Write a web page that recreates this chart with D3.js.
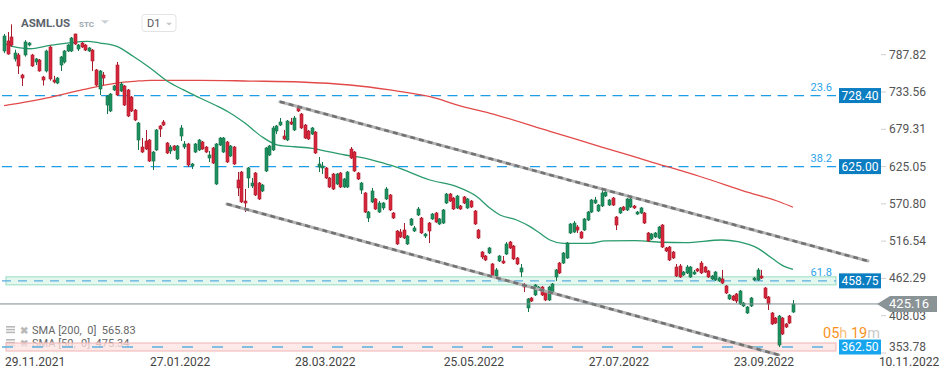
<!DOCTYPE html>
<html>
<head>
<meta charset="utf-8">
<script src="https://cdn.jsdelivr.net/npm/d3@7"></script>
<style>
    body { margin: 0; background: #fff; }
    svg { display: block; font-family: Roboto, "Noto Sans", sans-serif; }
</style>
</head>
<body>
<div id="chart"></div>
<script>
// Daily candles, [open, high, low, close]
var ohlc = [
    [793.2,818,790,815],[807.8,820.8,787.8,788.8],[813.6,832,799,801.9],[781.6,795,778,790.3],[787.4,790.3,759.7,771.4],
    [758.3,760,742.3,753.9],[787.4,809,785,806.3],[801.9,806.3,800,804.8],[787.4,789,770,771.4],[777.2,783,772.8,781.6],
    [780.1,781.6,763,764.1],[755.4,757,743,751],[764.1,795,762,793.2],[799,801,750,752.5],[751,757,746,748.1],
    [746.6,755.4,745,753.9],[772.8,786,764.1,784.5],[777.2,794.6,775,793.2],[793.2,803.4,791.7,801.9],[793.2,813.6,791.7,812.1],
    [817.9,818.5,802,803.4],[796.1,803.4,793.2,801.9],[804.8,806.3,797.6,799],[801.9,803.4,793.2,794.6],[793.2,799,791.7,797.6],
    [794.6,796,764.1,778.7],[765.6,767,742,743.7],[737.9,765.6,729.2,764.1],[758.3,762.6,743.7,753.9],[714.6,729.2,701.5,727.7],
    [705.9,732,704.4,730.6],[736.5,743.7,735,742.3],[772.8,777.2,727.7,729.2],[735,748,733.6,745.2],[742.3,743.7,713.2,714.6],
    [736.5,737.9,697,698.6],[726.3,727.7,704.4,705.9],[707.3,708.8,691.3,692.8],[663.7,689.9,649.2,688.4],[653.5,666.6,644.8,646.2],
    [662.2,678.3,649.2,650.6],[663.7,665.2,631.7,633.1],[633.1,647.7,620,646.2],[649.2,679.7,647.7,678.3],[684.1,685.5,668,679.7],
    [689.9,692.8,684.1,685.5],[659.3,660.8,643.3,644.8],[647.7,656.4,643.3,653.5],[655,656.4,647.7,649.2],[636.1,656.4,634.6,655],
    [669.5,685.5,662.2,681.2],[653.5,662.2,650.6,657.9],[657.9,659.3,624.4,627.3],[625.9,630.2,621.5,628.8],[646.2,659.3,644.8,657.9],
    [649.2,665.2,647.7,663.7],[660.8,662.2,649.2,650.6],[653.5,655,644.8,646.2],[637.5,647.7,631.7,641.9],[652.1,653.5,628.8,630.2],
    [599.7,659.3,598.2,657.9],[656.4,668,655,666.6],[646.2,668,644.8,666.6],[660.8,662.2,630.2,631.7],[640.4,656.4,639,655],
    [653.5,655,627.3,628.8],[605.5,617.1,582.2,593.9],[617.1,618.6,572,573.5],[574.9,592.4,558.9,572],[608.4,624.4,593.9,623],
    [596.8,608.4,593.9,601.1],[615.7,617.1,582.2,583.7],[601.1,602.6,576.4,577.9],[589.5,599.7,588,598.2],[618.6,653.5,617.1,652.1],
    [641.9,656.4,640.4,655],[649.2,684.1,647.7,681.2],[676.8,685.5,672.4,684.1],[685.5,695.7,684.1,689.9],[669.5,678.3,663.7,665.2],
    [663.7,692.8,662.2,691.3],[689.9,695.7,685.5,686.9],[678.3,698.6,676.8,695.7],[710.3,714.6,704.4,705.9],[701.5,703,679.7,681.2],
    [685.5,686.9,665.2,666.6],[676.8,678.3,663.7,665.2],[672.4,682.6,671,681.2],[675.3,676.8,643.3,644.8],[624.4,639,617.1,628.8],
    [623,631.7,614.2,625.9],[623,624.4,606.9,608.4],[608.4,609.9,593.9,595.3],[614.2,615.7,590.9,592.4],[599.7,615.7,598.2,614.2],
    [615.7,617.1,593.9,595.3],[595.3,608.4,593.9,606.9],[595.3,618.6,593.9,617.1],[650.6,653.5,636.1,637.5],[646.2,647.7,617.1,618.6],
    [615.7,617.1,605.5,606.9],[590.9,602.6,585.1,601.1],[586.6,588,557.5,558.9],[550.2,560.4,544.4,558.9],[573.5,593.9,572,589.5],
    [577.9,579.3,561.9,563.3],[558.9,574.9,557.5,572],[564.8,573.5,561.9,572],[577.9,595.3,576.4,592.4],[583.7,585.1,560.4,561.9],
    [557.5,558.9,548.8,550.2],[531.3,532.7,511,512.4],[529.8,534.2,521.1,522.6],[532.7,542.9,519.7,521.1],[512.4,525.5,511,524],
    [540,550.2,538.6,548.8],[531.3,538.6,529.8,535.7],[554.6,566.2,553.1,563.3],[550.2,551.7,527,528.4],[524,528.4,521.1,526.9],
    [542.9,544.4,513.8,531.3],[548.8,557.5,547.3,556],[557.5,558.9,543,544.4],[541.5,550.2,540,548.8],[542.9,563.3,541.5,561.9],
    [572,586.6,570.6,585.1],[585.1,586.6,573.5,574.9],[579.3,580.8,561.9,563.3],[564.8,583.7,563.3,582.2],[567.7,569.1,561.9,563.3],
    [580.8,582.2,570.6,572],[564.8,579.3,563.3,577.9],[574.9,576.4,564.8,566.2],[560.4,561.9,540,541.5],[532.7,534.2,519.7,521.1],
    [500.7,502.2,490.6,493.5],[494.9,496.4,487.6,489.1],[499.3,508,497.8,506.6],[483.3,484.7,464.4,465.8],[465.8,477.5,464.4,474.6],
    [487.6,496.4,486.2,494.9],[487.6,494.9,483.3,484.7],[497.8,515.3,496.4,512.4],[515.3,516.8,505.1,506.6],[509.5,510.9,489.1,490.6],
    [492,493.5,481.8,483.3],[471.6,483.3,464.4,477.5],[452.7,455.6,442.5,449.8],[419.3,433.8,413.4,432.4],[433.8,435.3,428,429.4],
    [438.2,454.2,436.7,452.7],[445.5,451.3,444,449.8],[449.8,451.3,436.7,438.2],[442.5,444,429.4,430.9],[430.9,451.3,429.4,449.8],
    [442.5,455.6,441.1,454.2],[464.4,476,458.5,474.6],[484.7,486.2,468.7,470.2],[484.7,500.7,483.3,499.3],[492,515.3,490.6,513.8],
    [528.4,543,527,541.5],[529.8,545.8,528.4,542.9],[537.1,540,528.4,532.7],[529.8,531.3,519.7,521.1],[532.7,550.2,531.3,548.8],
    [547.3,560.4,545.8,558.9],[558.9,577.9,557.5,576.4],[572,580.8,570.6,576.4],[560.4,570.6,559,569.1],[567.7,590.9,566.2,586.6],
    [582.2,589.5,580.8,588],[569.1,577.9,567.7,576.4],[579.3,580.8,567.7,569.1],[551.7,553.1,532.7,540],[557.5,566.2,556,564.8],
    [566.2,567.7,560.4,561.9],[561.9,579.3,560.4,577.9],[566.2,579.3,564.8,577.9],[567.7,569.1,563.3,564.8],[556,560.4,554.6,558.9],
    [557.5,566.2,556,564.8],[557.5,558.9,541.5,542.9],[528.4,529.8,515.3,516.8],[519.7,528.4,518.2,526.9],[522.6,529.8,521.1,528.4],
    [521.1,538.6,519.7,537.1],[540,541.5,506.6,508],[506.6,508,500.7,502.2],[508,509.5,487.6,489.1],[500.7,502.2,490.6,492],
    [478.9,483.3,464.4,465.8],[480.4,483.3,463,464.4],[467.3,473.1,465.8,471.6],[470.2,481.8,468.7,478.9],[464.4,480.4,463,478.9],
    [468.7,474.6,467.3,471.6],[476,477.5,471.6,473.1],[484.7,487.6,468.7,470.2],[478.9,480.4,470.2,471.6],[473.1,474.6,463,464.4],
    [461.5,467.3,460,465.8],[460,473.1,458.5,471.6],[458.5,464.4,457.1,462.9],[461.5,474.6,454.2,455.6],[451.3,452.7,439.6,441.1],
    [432.4,439.6,430.9,438.2],[436.7,438.2,429.4,430.9],[439.6,441.1,426.5,429.4],[425.1,445.5,423.6,444],[422.2,428,420.7,426.5],
    [412,422.2,410.5,420.7],[422.2,435.3,420.7,433.8],[460,464.4,458.5,462.9],[460,477.5,458.5,474.6],[465.8,474.6,461.5,462.9],
    [448.4,449.8,432.4,433.8],[435.3,436.7,416.4,425.1],[412,413.4,394.5,396],[404.7,406.2,396,397.4],[365.4,409.1,362.5,407.6],
    [404.7,406.2,380,381.4],[396,397.4,390.2,391.6],[407.6,409.1,396,397.4],[413.4,430.9,412,425.16]
];

// Moving averages read at points along the curves: [bar index, value]
var sma50 = [
    [0,804],[4.5,797.6],[7.3,796.5],[13,801.5],[17.8,804.8],[23.5,807.3],[27.1,804.8],[31.9,800],[36.5,785.5],
    [41.3,768.5],[46.1,749.6],[50.6,736.9],[55.4,724.8],[59.6,714.6],[63.3,704.9],[68.1,688.4],[72.9,668.5],
    [77.4,656.4],[82.2,653.9],[87.1,651.6],[91.6,646.7],[96.4,641.9],[101.2,638],[105.7,632.1],[110.5,624.9],
    [120.4,605.5],[128,595.8],[133.7,581.2],[137.4,564.3],[140.2,554.6],[144.9,547.3],[148.7,537.6],[151.5,527.9],
    [154.3,518.2],[158.1,513.4],[165.6,513.4],[169.9,516.8],[178.4,517.2],[186,514.9],[192.5,514.3],[202.9,518.2],
    [207.5,515.7],[213.1,506.1],[217.1,491.6],[220.7,479.4],[223,475.34]
];
var sma200 = [
    [0,713.6],[13,725.8],[22.3,736.9],[31.9,746.6],[37,749.1],[41.3,750.6],[55.4,750.6],[69.5,749.5],[83.7,748.1],
    [97.8,743.7],[109.1,736.5],[120.4,726.7],[129.7,712.2],[137.4,702.6],[154.3,676.4],[168.5,654.2],[182.6,632.4],
    [196.7,610.6],[210.9,586.6],[219.3,573.5],[223,565.83]
];

var yTicks = [787.82, 733.56, 679.31, 625.05, 570.80, 516.54, 462.29, 408.03, 353.78];
var xTickIdx = [0, 41, 82, 124, 165, 206, 247];
var xTickLabels = ["29.11.2021", "27.01.2022", "28.03.2022", "25.05.2022", "27.07.2022", "23.09.2022", "10.11.2022"];

var fibValues = [728.40, 625.00, 458.75, 362.50];
var fibNames = ["23.6", "38.2", "61.8", ""];

// Channel trend lines: [bar index, price] end points
var channelUpper = [[78, 719.4], [244.2, 487.6]];
var channelLower = [[63, 570.6], [219, 350.9]];

var lastPrice = 425.16;
var legendLines = ["SMA [200,  0]  565.83", "SMA [50,  0]  475.34"];

var width = 949, height = 378;

var svg = d3.select("#chart")
    .append("svg")
    .attr("width", width)
    .attr("height", height);

// Scales: one bar every ~3.54px, price axis on the right
var x = d3.scaleLinear().domain([0, 247]).range([4, 4 + 3.538 * 247]);
var y = d3.scaleLinear().domain([353.78, 787.82]).range([353, 54.7]);

svg.append("clipPath").attr("id", "plotClip")
    .append("rect").attr("x", 0).attr("y", 0).attr("width", 880).attr("height", 356);

// Header
svg.append("text").attr("x", 21).attr("y", 27)
    .style("font-size", "11.5px").style("font-weight", "bold").style("fill", "#5b636b")
    .text("ASML.US");
svg.append("text").attr("x", 79).attr("y", 26.8)
    .style("font-size", "8px").style("font-weight", "bold").style("fill", "#9aa7b0")
    .text("STC");
svg.append("path").attr("d", "M101,20.3L109,20.3L105,23.8Z").style("fill", "#c8d0d5");
svg.append("rect").attr("x", 142).attr("y", 14.5).attr("width", 34).attr("height", 17).attr("rx", 3)
    .style("fill", "#fff").style("stroke", "#e3e3e3");
svg.append("text").attr("x", 147).attr("y", 27)
    .style("font-size", "11px").style("fill", "#555")
    .text("D1");
svg.append("path").attr("d", "M166,22.7L172,22.7L169,25.5Z").style("fill", "#c8c8c8");

// Legend (drawn first so the bottom band covers it)
var legend = svg.append("g");
legendLines.forEach(function(t, i) {
    var ly = 334 + i * 13;
    legend.append("rect").attr("x", 6).attr("y", ly - 8).attr("width", 9).attr("height", 1.6).style("fill", "#b8b8b8");
    legend.append("rect").attr("x", 6).attr("y", ly - 5.2).attr("width", 9).attr("height", 1.6).style("fill", "#b8b8b8");
    legend.append("rect").attr("x", 6).attr("y", ly - 2.4).attr("width", 9).attr("height", 1.6).style("fill", "#b8b8b8");
    legend.append("text").attr("x", 19.5).attr("y", ly)
        .style("font-size", "10px").style("font-weight", "bold").style("fill", "#b8b8b8")
        .text("\u2716");
    legend.append("text").attr("x", 32).attr("y", ly)
        .style("font-size", "11px").style("fill", "#666").style("white-space", "pre")
        .text(t);
});

var plot = svg.append("g").attr("clip-path", "url(#plotClip)");

// Fibonacci levels
var bandFill = { 2: "#dcf5ea", 3: "#fde2e2" };
var bandStroke = { 2: "#98dcc0", 3: "#f1b2b2" };
var levelDash = ["10,6.5", "10,6.5", "9,7", "11,19"];
fibValues.forEach(function(v, i) {
    var ly = y(v);
    if (bandFill[i]) {
        plot.append("rect")
            .attr("x", 6).attr("y", ly - 4).attr("width", 830).attr("height", 8)
            .style("fill", bandFill[i]).style("fill-opacity", 0.75)
            .style("stroke", bandStroke[i]).style("stroke-width", 1);
    }
    plot.append("line")
        .attr("x1", 2).attr("x2", 836).attr("y1", ly).attr("y2", ly)
        .style("stroke", bandFill[i] ? "#5aaee0" : "#1b9de8")
        .style("stroke-width", 1.3)
        .style("stroke-dasharray", levelDash[i]);
});

// Moving averages
var smaLine = d3.line()
    .x(function(d) { return x(d[0]); })
    .y(function(d) { return y(d[1]); })
    .curve(d3.curveMonotoneX);

plot.append("path").datum(sma200).attr("d", smaLine)
    .style("fill", "none").style("stroke", "#e24a4a").style("stroke-width", 1.3);
plot.append("path").datum(sma50).attr("d", smaLine)
    .style("fill", "none").style("stroke", "#2a9b6c").style("stroke-width", 1.3);

// Candles
var candles = plot.selectAll(".candle")
    .data(ohlc)
    .enter()
    .append("g")
    .attr("class", "candle");

candles.append("line")
    .attr("x1", function(d, i) { return Math.round(x(i)) + 0.5; })
    .attr("x2", function(d, i) { return Math.round(x(i)) + 0.5; })
    .attr("y1", function(d) { return y(d[1]); })
    .attr("y2", function(d) { return y(d[2]); })
    .style("stroke", function(d) { return d[3] >= d[0] ? "#16744a" : "#a81c2d"; })
    .style("stroke-width", 1);

candles.append("rect")
    .attr("x", function(d, i) { return Math.round(x(i)) - 1; })
    .attr("width", 3)
    .attr("y", function(d) { return y(Math.max(d[0], d[3])); })
    .attr("height", function(d) { return Math.max(1, Math.abs(y(d[0]) - y(d[3]))); })
    .style("fill", function(d) { return d[3] >= d[0] ? "#1e9160" : "#d8263b"; })
    .style("stroke", function(d) { return d[3] >= d[0] ? "#16744a" : "#a81c2d"; })
    .style("stroke-width", 0.6);

// Channel lines
[channelUpper, channelLower].forEach(function(seg) {
    var coords = seg.map(function(p) { return [x(p[0]), y(p[1])]; });
    plot.append("path").attr("d", d3.line()(coords))
        .style("stroke", "#b4b4b4").style("stroke-width", 3).style("stroke-linecap", "round");
    plot.append("path").attr("d", d3.line()(coords))
        .style("stroke", "#5c5c5c").style("stroke-width", 2.6)
        .style("stroke-dasharray", "5,4").style("opacity", 0.75);
});

// Fibonacci labels and price boxes
var boxColor = ["#0b7dc1", "#0b7dc1", "#0b7dc1", "#17a6ee"];
fibValues.forEach(function(v, i) {
    var ly = y(v);
    if (fibNames[i]) {
        svg.append("text").attr("x", 832).attr("y", ly - 5)
            .attr("text-anchor", "end")
            .style("font-size", "11px").style("fill", "#2ba4e8")
            .text(fibNames[i]);
    }
    svg.append("rect").attr("x", 839).attr("y", ly - 7.5).attr("width", 42).attr("height", 15)
        .style("fill", boxColor[i]);
    svg.append("text").attr("x", 860).attr("y", ly)
        .attr("text-anchor", "middle").attr("dominant-baseline", "central")
        .style("font-size", "12px").style("fill", "#fff")
        .text(d3.format(".2f")(v));
});

// Right price axis
yTicks.forEach(function(v) {
    var ly = Math.min(y(v), 347);
    svg.append("line").attr("x1", 881).attr("x2", 886).attr("y1", y(v)).attr("y2", y(v))
        .style("stroke", "#d0d0d0");
    svg.append("text").attr("x", 889).attr("y", ly)
        .attr("dominant-baseline", "central")
        .style("font-size", "12px").style("fill", "#555")
        .text(d3.format(".2f")(v));
});

// Bottom date axis
xTickIdx.forEach(function(idx, i) {
    svg.append("text").attr("x", x(idx) + 1).attr("y", 366)
        .style("font-size", "12px").style("fill", "#444")
        .text(xTickLabels[i]);
});

// Current price line and pointer (it covers the top of the 408.03 label, as in the source)
var py = y(lastPrice);
svg.append("line").attr("x1", 0).attr("x2", 878).attr("y1", py).attr("y2", py)
    .style("stroke", "#7d8b90").style("stroke-width", 1);
svg.append("path")
    .attr("d", "M877," + py + "L890," + (py - 8) + "L937," + (py - 8) + "L937," + (py + 8) + "L890," + (py + 8) + "Z")
    .style("fill", "#8a9396");
svg.append("text").attr("x", 909).attr("y", py)
    .attr("text-anchor", "middle").attr("dominant-baseline", "central")
    .style("font-size", "13px").style("fill", "#fff")
    .text(d3.format(".2f")(lastPrice));

// Candle countdown
var timer = svg.append("text").attr("x", 823).attr("y", 337.5).style("font-size", "14.5px");
timer.append("tspan").style("fill", "#f7931e").text("05");
timer.append("tspan").style("fill", "#fbbf78").text("h ");
timer.append("tspan").style("fill", "#f7931e").text("19");
timer.append("tspan").style("fill", "#c9c9c9").text("m");
</script>
</body>
</html>
